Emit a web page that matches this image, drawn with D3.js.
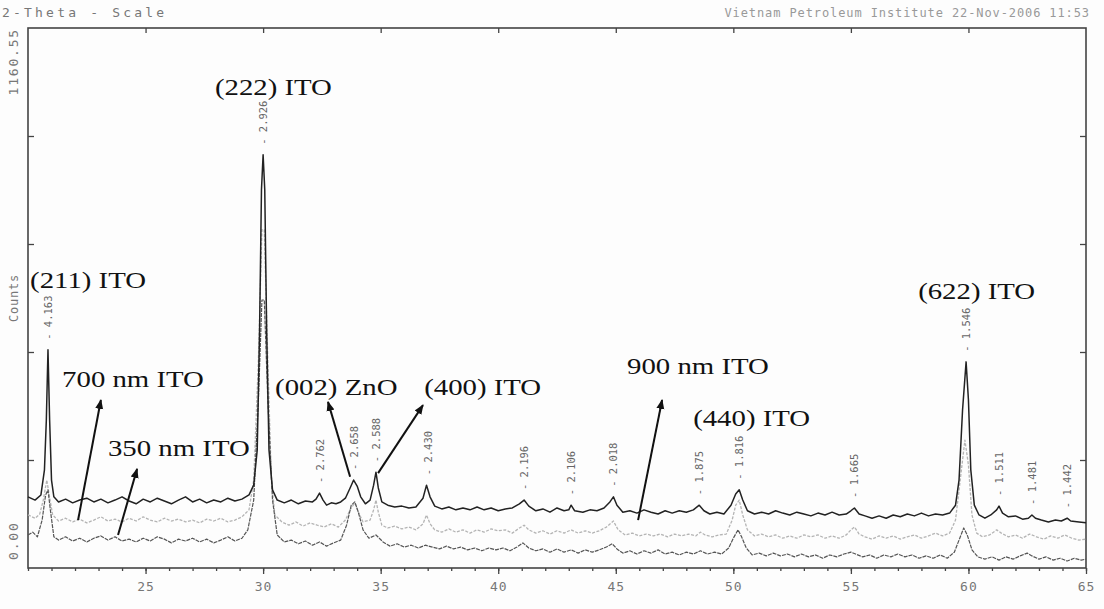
<script src="https://cdn.jsdelivr.net/npm/d3@7"></script>
<style>
  body { margin: 0; background: #fdfdfd; }
  .mono { font-family: "DejaVu Sans Mono", "Liberation Mono", monospace; fill: #777; }
  .note { font-family: "Liberation Serif", "Times New Roman", serif; fill: #111; font-size: 24px; }
</style>
<div id="canvas"></div>
<script>
    const width = 1104;
    const height = 609;

    // XRD scans, [2-theta, counts]
    const film900 = [[20.0,153],[20.3,146],[20.55,157],[20.7,211],[20.78,318],[20.85,469],[20.92,318],[21.0,189],[21.1,153],[21.3,142],[21.6,148],[21.9,140],[22.2,146],[22.5,150],[22.8,142],[23.1,148],[23.4,140],[23.7,146],[24.0,153],[24.3,144],[24.6,138],[24.9,148],[25.2,142],[25.5,150],[25.8,144],[26.1,138],[26.4,146],[26.7,153],[27.0,142],[27.3,148],[27.6,140],[27.9,146],[28.2,142],[28.5,150],[28.8,144],[29.1,148],[29.4,157],[29.6,178],[29.75,254],[29.85,512],[29.93,813],[30.0,888],[30.07,813],[30.15,512],[30.25,254],[30.4,168],[30.6,146],[30.9,140],[31.2,146],[31.5,138],[31.8,144],[32.1,142],[32.25,148],[32.4,161],[32.55,146],[32.7,135],[32.9,140],[33.1,138],[33.3,142],[33.5,150],[33.7,172],[33.85,189],[34.0,176],[34.15,153],[34.35,138],[34.55,146],[34.7,178],[34.8,206],[34.9,172],[35.05,142],[35.3,135],[35.6,131],[35.9,133],[36.2,129],[36.5,131],[36.8,150],[36.95,178],[37.1,153],[37.3,133],[37.6,127],[37.9,131],[38.2,125],[38.5,129],[38.8,125],[39.1,131],[39.4,125],[39.7,129],[40.0,123],[40.3,127],[40.6,129],[40.9,138],[41.1,146],[41.3,133],[41.6,123],[41.9,127],[42.2,120],[42.5,129],[42.8,123],[43.0,125],[43.1,135],[43.25,123],[43.6,120],[43.9,125],[44.2,123],[44.5,129],[44.75,142],[44.9,153],[45.05,135],[45.3,120],[45.6,123],[45.9,118],[46.2,125],[46.5,120],[46.8,116],[47.1,123],[47.4,118],[47.7,123],[48.0,120],[48.3,125],[48.55,135],[48.75,123],[49.0,116],[49.3,120],[49.6,116],[49.9,135],[50.1,159],[50.25,168],[50.4,146],[50.6,123],[50.9,116],[51.2,120],[51.5,116],[51.8,123],[52.1,118],[52.4,114],[52.7,120],[53.0,116],[53.3,112],[53.6,118],[53.9,114],[54.2,120],[54.5,114],[54.8,116],[55.0,123],[55.15,129],[55.35,116],[55.6,112],[55.9,107],[56.2,112],[56.5,107],[56.8,114],[57.1,110],[57.4,116],[57.7,112],[58.0,118],[58.3,112],[58.6,116],[58.9,114],[59.2,118],[59.45,135],[59.6,189],[59.75,340],[59.9,443],[60.0,361],[60.1,211],[60.25,135],[60.45,114],[60.7,107],[60.95,114],[61.2,125],[61.3,133],[61.45,118],[61.7,110],[62.0,112],[62.3,105],[62.55,107],[62.7,114],[62.85,107],[63.1,103],[63.4,99],[63.7,103],[63.95,101],[64.2,107],[64.35,101],[64.7,99],[65.0,97]];

    const film700 = [[20.0,114],[20.3,107],[20.5,116],[20.65,146],[20.8,189],[20.9,157],[21.05,114],[21.3,101],[21.6,107],[21.9,99],[22.2,105],[22.5,97],[22.8,103],[23.1,110],[23.4,101],[23.7,105],[24.0,99],[24.3,107],[24.6,101],[24.9,110],[25.2,103],[25.5,99],[25.8,107],[26.1,101],[26.4,105],[26.7,99],[27.0,103],[27.3,97],[27.6,105],[27.9,101],[28.2,107],[28.5,99],[28.8,103],[29.1,110],[29.4,125],[29.6,189],[29.8,447],[29.95,727],[30.05,727],[30.2,447],[30.35,189],[30.5,114],[30.8,99],[31.1,92],[31.4,99],[31.7,90],[32.0,97],[32.3,92],[32.6,88],[32.9,95],[33.2,88],[33.5,103],[33.7,125],[33.9,140],[34.05,120],[34.25,99],[34.55,103],[34.7,125],[34.8,146],[34.9,120],[35.05,92],[35.3,86],[35.6,90],[35.9,84],[36.2,88],[36.5,82],[36.8,95],[36.95,114],[37.1,95],[37.3,82],[37.6,77],[37.9,84],[38.2,77],[38.5,82],[38.8,75],[39.1,82],[39.4,77],[39.7,84],[40.0,80],[40.3,82],[40.6,75],[40.9,86],[41.1,92],[41.3,82],[41.6,75],[41.9,80],[42.2,73],[42.5,80],[42.8,75],[43.1,82],[43.4,75],[43.7,80],[44.0,75],[44.3,80],[44.6,88],[44.9,101],[45.1,82],[45.4,71],[45.7,75],[46.0,69],[46.3,73],[46.6,69],[46.9,73],[47.2,67],[47.5,73],[47.8,69],[48.1,73],[48.4,69],[48.6,77],[48.8,71],[49.1,67],[49.4,71],[49.7,73],[49.95,103],[50.1,135],[50.25,146],[50.4,114],[50.6,82],[50.9,69],[51.2,73],[51.5,67],[51.8,71],[52.1,64],[52.4,69],[52.7,64],[53.0,71],[53.3,67],[53.6,71],[53.9,64],[54.2,69],[54.5,64],[54.8,71],[55.0,82],[55.15,88],[55.35,73],[55.6,67],[55.9,62],[56.2,69],[56.5,64],[56.8,69],[57.1,62],[57.4,67],[57.7,71],[58.0,64],[58.3,69],[58.6,75],[58.9,69],[59.2,75],[59.45,103],[59.65,189],[59.85,275],[60.0,221],[60.15,114],[60.35,75],[60.6,67],[60.9,71],[61.2,82],[61.4,75],[61.7,67],[62.0,71],[62.3,64],[62.6,73],[62.9,67],[63.2,62],[63.5,69],[63.8,64],[64.1,71],[64.4,64],[64.7,60],[65.0,62]];

    const film350 = [[20.0,71],[20.2,77],[20.4,67],[20.6,103],[20.75,157],[20.85,168],[20.95,125],[21.1,67],[21.3,60],[21.6,67],[21.9,58],[22.2,64],[22.5,56],[22.8,64],[23.1,69],[23.4,60],[23.7,67],[24.0,58],[24.3,62],[24.6,56],[24.9,64],[25.2,58],[25.5,67],[25.8,62],[26.1,54],[26.4,62],[26.7,58],[27.0,64],[27.3,56],[27.6,62],[27.9,54],[28.2,60],[28.5,67],[28.8,58],[29.1,64],[29.35,82],[29.6,146],[29.8,361],[29.95,576],[30.05,576],[30.2,361],[30.4,146],[30.6,71],[30.9,56],[31.2,60],[31.5,52],[31.8,58],[32.1,49],[32.4,56],[32.7,47],[33.0,54],[33.3,60],[33.55,92],[33.75,135],[33.9,142],[34.05,120],[34.25,82],[34.5,64],[34.8,71],[35.1,56],[35.4,47],[35.7,52],[36.0,45],[36.3,49],[36.6,43],[36.9,49],[37.2,45],[37.5,41],[37.8,47],[38.1,41],[38.4,45],[38.7,39],[39.0,43],[39.3,37],[39.6,43],[39.9,39],[40.2,43],[40.5,37],[40.8,45],[41.05,54],[41.3,43],[41.6,37],[41.9,41],[42.2,34],[42.5,41],[42.8,34],[43.1,39],[43.4,32],[43.7,39],[44.0,34],[44.3,39],[44.6,45],[44.85,52],[45.05,41],[45.3,32],[45.6,37],[45.9,30],[46.2,37],[46.5,32],[46.8,39],[47.1,30],[47.4,34],[47.7,28],[48.0,34],[48.3,30],[48.6,37],[48.9,30],[49.2,34],[49.5,30],[49.8,43],[50.0,64],[50.2,82],[50.35,67],[50.55,43],[50.8,28],[51.1,32],[51.4,26],[51.7,32],[52.0,26],[52.3,30],[52.6,24],[52.9,30],[53.2,24],[53.5,28],[53.8,21],[54.1,28],[54.4,24],[54.7,30],[55.0,34],[55.2,30],[55.5,24],[55.8,28],[56.1,21],[56.4,28],[56.7,24],[57.0,30],[57.3,24],[57.6,28],[57.9,21],[58.2,26],[58.5,21],[58.8,28],[59.1,21],[59.4,34],[59.6,60],[59.8,86],[59.95,71],[60.15,39],[60.4,24],[60.7,19],[61.0,24],[61.3,17],[61.6,24],[61.9,19],[62.2,26],[62.5,32],[62.7,26],[63.0,19],[63.3,24],[63.6,17],[63.9,21],[64.2,15],[64.5,21],[64.8,17],[65.0,19]];

    // d-spacing marks on the top scan
    const dTheta = [20.85, 30.0, 32.4, 33.85, 34.8, 37.0, 41.1, 43.1, 44.9, 48.55, 50.25, 55.15, 59.9, 61.3, 62.7, 64.2];
    const dLabels = ["4.163", "2.926", "2.762", "2.658", "2.588", "2.430", "2.196", "2.106", "2.018", "1.875", "1.816", "1.665", "1.546", "1.511", "1.481", "1.442"];

    // annotations: text, 2-theta, counts (baseline left)
    const notes = [
        ["(222) ITO", 27.95, 1016], ["(211) ITO", 20.09, 602], ["700 nm ITO", 21.45, 389],
        ["350 nm ITO", 23.40, 241], ["(002) ZnO", 30.51, 372], ["(400) ITO", 36.85, 372],
        ["900 nm ITO", 45.48, 417], ["(440) ITO", 48.29, 305], ["(622) ITO", 57.86, 578]
    ];
    // pointer lines: from [2-theta, counts] to [2-theta, counts] (head at the end)
    const pointers = [
        [[22.13, 103], [23.10, 361]], [[23.83, 71], [24.64, 213]],
        [[33.70, 196], [32.76, 357]], [[34.89, 204], [36.80, 350]],
        [[45.95, 103], [46.97, 361]]
    ];

    const yMax = 1160.55;
    const xMajor = [25, 30, 35, 40, 45, 50, 55, 60, 65];

    const svg = d3.select("#canvas")
        .append("svg")
        .attr("width", width)
        .attr("height", height);

    const x = d3.scaleLinear().domain([20, 65]).range([28, 1086]);
    const y = d3.scaleLinear().domain([0, yMax]).range([568, 28]);

    // frame
    svg.append("rect")
        .attr("x", x(20)).attr("y", y(yMax))
        .attr("width", x(65) - x(20)).attr("height", y(0) - y(yMax))
        .attr("fill", "none").attr("stroke", "#444").attr("stroke-width", 1.6);

    // axes ticks
    const minorAxis = svg.append("g").attr("transform", `translate(0,${y(0)})`)
        .call(d3.axisBottom(x).tickValues(d3.range(20, 66, 1)).tickSize(3).tickFormat(""));
    const majorAxis = svg.append("g").attr("transform", `translate(0,${y(0)})`)
        .call(d3.axisBottom(x).tickValues(xMajor).tickSize(6).tickPadding(8).tickFormat(d3.format("d")));
    const topAxis = svg.append("g").attr("transform", `translate(0,${y(yMax)})`)
        .call(d3.axisBottom(x).tickValues(xMajor.slice(0, -1)).tickSize(5).tickFormat(""));
    const yTicks = d3.range(1, 5).map(i => i * yMax / 5);
    const leftAxis = svg.append("g").attr("transform", `translate(${x(20)},0)`)
        .call(d3.axisRight(y).tickValues(yTicks).tickSize(6).tickFormat(""));
    const rightAxis = svg.append("g").attr("transform", `translate(${x(65)},0)`)
        .call(d3.axisLeft(y).tickValues(yTicks).tickSize(6).tickFormat(""));

    [minorAxis, majorAxis, topAxis, leftAxis, rightAxis].forEach(g => {
        g.select(".domain").remove();
        g.selectAll("line").attr("stroke", "#444").attr("stroke-width", 1.3);
    });
    majorAxis.selectAll("text")
        .attr("class", "mono")
        .style("font-size", "13px")
        .style("letter-spacing", "1px")
        .attr("fill", "#888");

    // header texts
    svg.append("text").attr("class", "mono").attr("x", 2).attr("y", 17)
        .style("font-size", "13px").style("letter-spacing", "3.2px")
        .text("2-Theta - Scale");
    svg.append("text").attr("class", "mono").attr("x", 1090).attr("y", 17)
        .attr("text-anchor", "end")
        .style("font-size", "12px").style("letter-spacing", "0.9px").style("fill", "#999")
        .text("Vietnam Petroleum Institute 22-Nov-2006 11:53");

    // y labels
    svg.append("text").attr("class", "mono")
        .attr("transform", `translate(18,${y(yMax)}) rotate(-90)`)
        .attr("text-anchor", "end")
        .style("font-size", "13px").style("letter-spacing", "1.8px")
        .text(d3.format(".2f")(yMax));
    svg.append("text").attr("class", "mono")
        .attr("transform", `translate(18,${y(0) - 8}) rotate(-90)`)
        .attr("text-anchor", "start")
        .style("font-size", "13px").style("letter-spacing", "1.8px")
        .text(d3.format(".2f")(0));
    svg.append("text").attr("class", "mono")
        .attr("transform", `translate(18,298) rotate(-90)`)
        .attr("text-anchor", "middle")
        .style("font-size", "12px").style("letter-spacing", "0.8px")
        .text("Counts");

    // scans
    const line = d3.line().x(d => x(d[0])).y(d => y(d[1]));
    const scans = [
        {data: film700, color: "#b4b4b4", width: 1.3, dash: "3,1.5"},
        {data: film350, color: "#555", width: 1.2, dash: "4,1"},
        {data: film900, color: "#222", width: 1.5, dash: null}
    ];
    svg.selectAll("path.scan")
        .data(scans)
        .enter()
        .append("path")
        .attr("class", "scan")
        .attr("d", s => line(s.data))
        .attr("fill", "none")
        .attr("stroke", s => s.color)
        .attr("stroke-width", s => s.width)
        .attr("stroke-dasharray", s => s.dash)
        .attr("stroke-linejoin", "round");

    // d-spacing labels above the peaks of the top scan
    const peakTop = t => d3.max(film900.filter(d => Math.abs(d[0] - t) <= 0.2), d => d[1]);
    svg.selectAll("text.dval")
        .data(dTheta)
        .enter()
        .append("text")
        .attr("class", "mono dval")
        .attr("transform", (t, i) => `translate(${x(t) + 4},${y(peakTop(t)) - 10}) rotate(-90)`)
        .style("font-size", "10.5px")
        .style("fill", "#666")
        .text((t, i) => "- " + dLabels[i]);

    // annotations (the scanned lettering is wide, so stretch it a little)
    svg.selectAll("text.note")
        .data(notes)
        .enter()
        .append("text")
        .attr("class", "note")
        .attr("transform", d => `translate(${x(d[1])},${y(d[2])}) scale(1.2,1)`)
        .text(d => d[0]);

    svg.append("defs").append("marker")
        .attr("id", "head")
        .attr("viewBox", "0 0 10 10")
        .attr("refX", 9).attr("refY", 5)
        .attr("markerWidth", 5).attr("markerHeight", 5)
        .attr("orient", "auto")
        .append("path")
        .attr("d", "M0,1 L10,5 L0,9 Z")
        .attr("fill", "#111");

    svg.selectAll("line.pointer")
        .data(pointers)
        .enter()
        .append("line")
        .attr("class", "pointer")
        .attr("x1", d => x(d[0][0])).attr("y1", d => y(d[0][1]))
        .attr("x2", d => x(d[1][0])).attr("y2", d => y(d[1][1]))
        .attr("stroke", "#111")
        .attr("stroke-width", 2)
        .attr("marker-end", "url(#head)");
</script>
